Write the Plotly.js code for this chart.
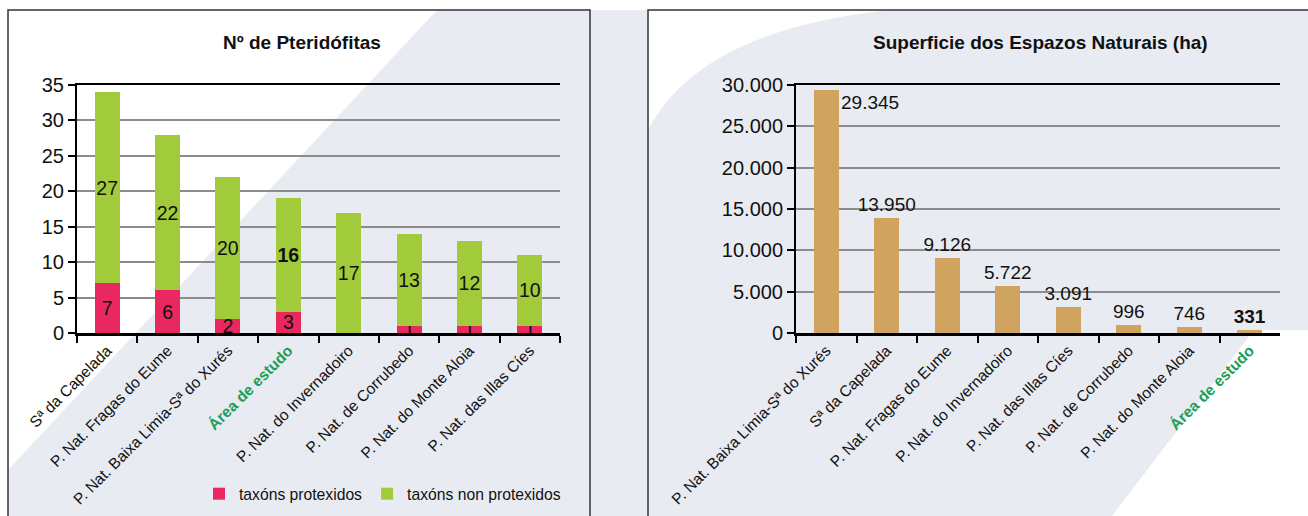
<!DOCTYPE html>
<html>
<head>
<meta charset="utf-8">
<script src="https://cdn.plot.ly/plotly-3.0.1.min.js"></script>
<style>html,body{margin:0;padding:0;background:#fff;}#chart{width:1308px;height:516px;}</style>
</head>
<body>
<div id="chart"></div>
<script>
// ---- Data: Nº de Pteridófitas ----
var pterCategories = ['Sª da Capelada', 'P. Nat. Fragas do Eume', 'P. Nat. Baixa Limia-Sª do Xurés', 'Área de estudo', 'P. Nat. do Invernadoiro', 'P. Nat. de Corrubedo', 'P. Nat. do Monte Aloia', 'P. Nat. das Illas Cíes'];
var taxonsProtexidos = [7, 6, 2, 3, 0, 1, 1, 1];
var taxonsNonProtexidos = [27, 22, 20, 16, 17, 13, 12, 10];

// ---- Data: Superficie dos Espazos Naturais (ha) ----
var areaCategories = ['P. Nat. Baixa Limia-Sª do Xurés', 'Sª da Capelada', 'P. Nat. Fragas do Eume', 'P. Nat. do Invernadoiro', 'P. Nat. das Illas Cíes', 'P. Nat. de Corrubedo', 'P. Nat. do Monte Aloia', 'Área de estudo'];
var superficieHa = [29345, 13950, 9126, 5722, 3091, 996, 746, 331];

var studyArea = 'Área de estudo';
var FONT_A = '"Liberation Sans", Arial, sans-serif';

function fmt(v) { return String(v).replace(/\B(?=(\d{3})+(?!\d))/g, '.'); }
function tickLabel(c) { return c === studyArea ? '<b><span style="color:#1f9e55">' + c + '</span></b>' : c; }
function bold(c, s) { return c === studyArea ? '<b>' + s + '</b>' : s; }

var W = 1308, H = 516;
function px(x) { return x / W; }
function py(y) { return 1 - y / H; }
// decorative background (watermark) path in pixel coordinates -> paper coordinates
function pathPx(pts) {
  return 'M ' + pts.map(function (p) { return px(p[0]).toFixed(5) + ',' + py(p[1]).toFixed(5); }).join(' L ') + ' Z';
}

var TINT = '#e8ebf2';

var traces = [
  {
    type: 'bar', name: 'taxóns protexidos', x: pterCategories, y: taxonsProtexidos,
    xaxis: 'x', yaxis: 'y',
    marker: {color: '#e8285e'},
    text: taxonsProtexidos.map(function (v) { return v ? String(v) : ''; }),
    textposition: 'inside', insidetextanchor: 'middle', textangle: 0, constraintext: 'none',
    textfont: {family: FONT_A, size: 19.5, color: '#111'},
    hoverinfo: 'skip'
  },
  {
    type: 'bar', name: 'taxóns non protexidos', x: pterCategories, y: taxonsNonProtexidos,
    xaxis: 'x', yaxis: 'y',
    marker: {color: '#a1cb3b'},
    text: taxonsNonProtexidos.map(function (v, i) { return bold(pterCategories[i], String(v)); }),
    textposition: 'inside', insidetextanchor: 'middle', textangle: 0, constraintext: 'none',
    textfont: {family: FONT_A, size: 19.5, color: '#111'},
    hoverinfo: 'skip'
  },
  {
    type: 'bar', name: 'Superficie', x: areaCategories, y: superficieHa,
    xaxis: 'x2', yaxis: 'y2', showlegend: false,
    marker: {color: '#d0a35e'},
    text: superficieHa.map(function (v, i) { return i === 0 ? '' : bold(areaCategories[i], fmt(v)); }),
    textposition: 'outside', textangle: 0, constraintext: 'none', cliponaxis: false,
    textfont: {family: FONT_A, size: 19, color: '#111'},
    hoverinfo: 'skip'
  }
];

var axisCommon = {
  type: 'category', tickangle: -45, ticks: 'outside', tickson: 'boundaries', ticklen: 7,
  tickwidth: 2, tickcolor: '#000', showline: true, linecolor: '#000', linewidth: 2.5,
  mirror: true, showgrid: false, tickfont: {family: FONT_A, size: 15.5, color: '#111'}, fixedrange: true
};
var yCommon = {
  ticks: 'outside', ticklen: 7, tickwidth: 2, tickcolor: '#000', showline: true, linecolor: '#000',
  linewidth: 2, showgrid: true, gridcolor: '#8c8c8c', gridwidth: 2, zeroline: false,
  tickfont: {family: FONT_A, size: 20, color: '#111'}, fixedrange: true
};

var layout = {
  width: W, height: H, margin: {l: 0, r: 0, t: 0, b: 0},
  paper_bgcolor: '#fff', plot_bgcolor: 'rgba(0,0,0,0)',
  separators: ',.', barmode: 'stack', bargap: 0.585,
  font: {family: FONT_A, color: '#111'},
  xaxis: Object.assign({}, axisCommon, {domain: [px(77), px(560)], anchor: 'y',
    tickmode: 'array', tickvals: pterCategories, ticktext: pterCategories.map(tickLabel)}),
  yaxis: Object.assign({}, yCommon, {domain: [py(333), py(85)], range: [0, 35], dtick: 5, anchor: 'x'}),
  xaxis2: Object.assign({}, axisCommon, {domain: [px(796), px(1280)], anchor: 'y2',
    tickmode: 'array', tickvals: areaCategories, ticktext: areaCategories.map(tickLabel)}),
  yaxis2: Object.assign({}, yCommon, {domain: [py(333), py(85)], range: [0, 30000], dtick: 5000,
    tickformat: ',d', anchor: 'x2'}),
  showlegend: true,
  legend: {orientation: 'h', x: px(566), xanchor: 'right', y: py(494), yanchor: 'middle',
    traceorder: 'normal', font: {family: FONT_A, size: 15.7, color: '#111'},
    bgcolor: 'rgba(0,0,0,0)', itemwidth: 30, tracegroupgap: 0},
  shapes: [
    // light watermark-like background areas
    {type: 'path', xref: 'paper', yref: 'paper', layer: 'below', line: {width: 0}, fillcolor: TINT,
      path: pathPx([[437, 10], [648, 10], [648, 516], [8, 516], [8, 470]])},
    {type: 'path', xref: 'paper', yref: 'paper', layer: 'below', line: {width: 0}, fillcolor: TINT,
      path: pathPx([[648, 10], [1308, 10], [1308, 330], [1254, 330], [1112, 516], [648, 516]])},
    {type: 'path', xref: 'paper', yref: 'paper', layer: 'below', line: {width: 0}, fillcolor: '#ffffff',
      path: 'M ' + px(648) + ',' + py(130) + ' Q ' + px(700) + ',' + py(30) + ' ' + px(890) + ',' + py(10) + ' L ' + px(648) + ',' + py(10) + ' Z'},
    // panel frames
    {type: 'rect', xref: 'paper', yref: 'paper', x0: px(8), x1: px(590), y0: -0.05, y1: py(10),
      line: {color: '#333', width: 1.5}, fillcolor: 'rgba(0,0,0,0)', layer: 'below'},
    {type: 'rect', xref: 'paper', yref: 'paper', x0: px(648), x1: 1.05, y0: -0.05, y1: py(10),
      line: {color: '#333', width: 1.5}, fillcolor: 'rgba(0,0,0,0)', layer: 'below'}
  ],
  annotations: [
    {xref: 'paper', yref: 'paper', x: px(302), y: py(42), xanchor: 'center', yanchor: 'middle',
      text: '<b>Nº de Pteridófitas</b>',
      showarrow: false, font: {family: FONT_A, size: 19, color: '#111'}},
    {xref: 'paper', yref: 'paper', x: px(1040), y: py(42), xanchor: 'center', yanchor: 'middle',
      text: '<b>Superficie dos Espazos Naturais (ha)</b>',
      showarrow: false, font: {family: FONT_A, size: 19, color: '#111'}},
    {xref: 'x2', yref: 'y2', x: areaCategories[0], y: superficieHa[0], text: fmt(superficieHa[0]),
      xanchor: 'left', yanchor: 'top', xshift: 13, showarrow: false,
      font: {family: FONT_A, size: 19, color: '#111'}}
  ]
};

Plotly.newPlot('chart', traces, layout, {staticPlot: true, displayModeBar: false});
</script>
</body>
</html>
